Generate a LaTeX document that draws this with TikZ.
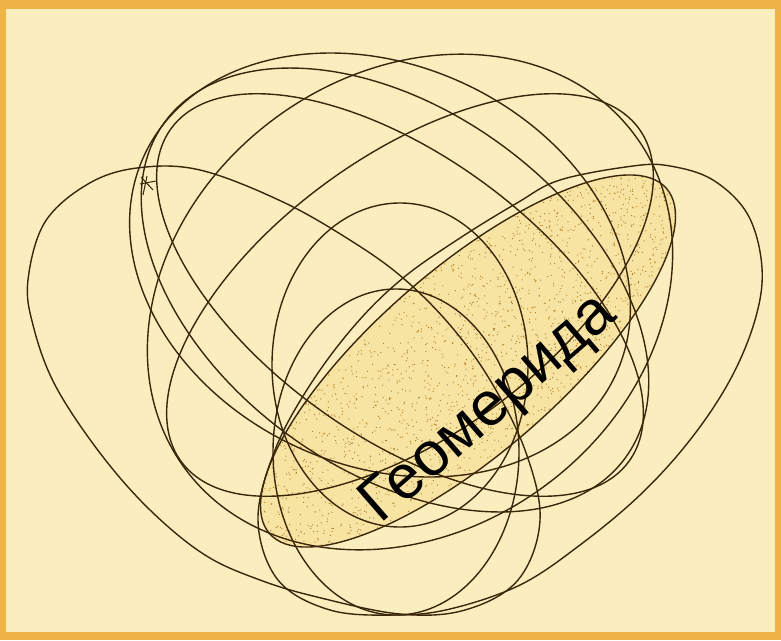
\documentclass[tikz,border=0pt]{standalone}
\usepackage{fontspec}
\setmainfont{Liberation Sans}
\definecolor{bordercol}{RGB}{239,179,70}
\definecolor{bgcol}{RGB}{250,238,190}
\definecolor{linecol}{RGB}{58,38,10}
\definecolor{shadecol}{RGB}{247,228,162}
\definecolor{dotcol}{RGB}{180,130,40}
\begin{document}
\begin{tikzpicture}[x=1pt,y=-1pt,
  oval/.style={draw=linecol, line width=1.4pt}]
\useasboundingbox (0,0) rectangle (781,640);
\fill[bordercol] (0,0) rectangle (781,640);
\fill[bgcol] (6,9) rectangle (775,632);
% shaded oval (Geomerida)
\begin{scope}[rotate around={41:(468,361)}]
  \clip (468,361) ellipse [x radius=263pt, y radius=92pt];
  \fill[shadecol] (468,361) ellipse [x radius=263pt, y radius=92pt];
  \pgfmathsetseed{11}
  \fill[dotcol] \foreach \i in {1,...,2300} { ({468+263*rand},{361+92*rand}) circle[radius=0.7pt] };
\end{scope}
% outer left oval
\draw[oval] plot[smooth cycle, tension=0.6] coordinates {
  (28,280) (45,222) (88,184) (137,168) (200,170) (283,202) (353,242) (403,278)
  (450,325) (490,380) (525,450) (540,520) (518,580) (465,610) (400,614) (317,597)
  (260,580) (205,555) (150,510) (100,453) (55,385) (33,325)};
% outer right oval
\draw[oval] plot[smooth cycle, tension=0.6] coordinates {
  (762,268) (748,215) (713,180) (670,166) (633,166) (560,180) (517,203) (460,238)
  (403,278) (355,325) (310,385) (275,450) (258,520) (278,580) (330,610) (395,615)
  (450,609) (520,585) (580,545) (640,495) (690,440) (730,380) (755,320)};
% inner ovals
\draw[oval, rotate around={-36:(395,290)}] (395,290) ellipse [x radius=285pt, y radius=180pt];
\draw[oval, rotate around={36.7:(410,302)}] (410,302) ellipse [x radius=280pt, y radius=228pt];
\draw[oval, rotate around={-25:(380,265)}] (380,265) ellipse [x radius=260pt, y radius=200pt];
\draw[oval, rotate around={36:(410,295)}] (410,295) ellipse [x radius=283pt, y radius=140pt];
\draw[oval, rotate around={-36:(400,295)}] (400,295) ellipse [x radius=283pt, y radius=140pt];
\draw[oval] (400,365) ellipse [x radius=128pt, y radius=162pt];
\draw[oval] (396,452) ellipse [x radius=123pt, y radius=163pt];
\draw[oval, rotate around={41:(468,361)}] (468,361) ellipse [x radius=263pt, y radius=92pt];
% asterisk
\draw[linecol, line width=1pt] (147,176) -- (143,195);
\draw[linecol, line width=1pt] (140,184) -- (156,181);
\draw[linecol, line width=1pt] (141,177) -- (153,190);
% label
\node[rotate=41, font=\fontsize{62}{62}\selectfont, text=black] (lbl) at (490,410) {Геомерида};
\end{tikzpicture}
\end{document}
